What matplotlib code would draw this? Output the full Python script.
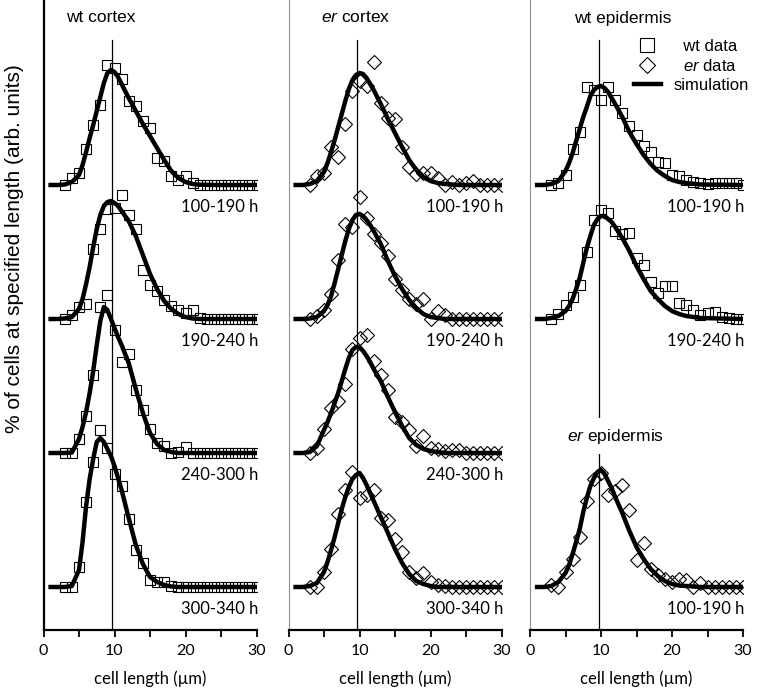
import matplotlib
matplotlib.use("Agg")
import matplotlib.pyplot as plt
from matplotlib.lines import Line2D
import numpy as np

plt.rcParams['mathtext.fontset'] = 'custom'
plt.rcParams['mathtext.it'] = 'Liberation Sans:italic'
plt.rcParams['mathtext.rm'] = 'Liberation Sans'

# measured bins (cell length, um) and simulation grid
bins = list(range(3, 31))
sim_x = [1, 2, 3, 4, 5, 5.5, 6, 6.5, 7, 7.5, 8, 8.5, 9, 9.5, 10, 10.5, 11, 11.5, 12,
         13, 14, 15, 16, 17, 18, 19, 20, 21, 22, 24, 30]

# wt cortex
wtc_100 = [0, 7, 12, 36, 60, 80, 120, 117, 106, 84, 79, 64, 57, 27, 24, 9, 5, 9, 2, 0, 0, 0, 0, 0, 0, 0, 0, 0]
wtc_100_sim = [0, 0, 0.5, 3, 10, 20, 33, 47, 60, 74, 88, 102, 112, 115, 113, 108, 101, 94, 87,
               74, 61, 49, 37, 25, 14, 7, 3, 1, 0.3, 0, 0]
wtc_190 = [0, 4, 12, 15, 70, 90, 110, 111, 124, 104, 90, 49, 34, 28, 19, 13, 9, 6, 9, 1, 0, 0, 0, 0, 0, 0, 0, 0]
wtc_190_sim = [0, 0, 0.5, 2, 10, 20, 35, 52, 72, 90, 104, 113, 117, 118, 116, 113, 108, 103, 98,
               83, 64, 45, 30, 18, 10, 5, 2, 0.5, 0, 0, 0]
wtc_240 = [0, 0, 14, 37, 78, 146, 158, 123, 91, 99, 63, 43, 24, 10, 7, 0, 1, 6, 0, 0, 0, 0, 0, 0, 0, 0, 0, 0]
wtc_240_sim = [0, 0, 0, 0.5, 14, 26, 41, 60, 82, 108, 132, 146, 143, 134, 125, 116, 108, 99, 90,
               64, 40, 20, 9, 3, 1, 0, 0, 0, 0, 0, 0]
wtc_300 = [0, 0, 20, 85, 125, 157, 139, 113, 101, 68, 37, 24, 7, 5, 5, 1, 0, 0, 0, 0, 0, 0, 0, 0, 0, 0, 0, 0]
wtc_300_sim = [0, 0, 0, 1, 17, 45, 81, 108, 128, 145, 149, 145, 138, 131, 121, 109, 97, 83, 69,
               42, 23, 10, 5, 2, 0.5, 0, 0, 0, 0, 0, 0]

# er cortex
erc_100 = [0, 9, 12, 38, 28, 61, 94, 104, 99, 123, 82, 67, 66, 38, 18, 11, 12, 12, 7, 0, 3, 0, 2, 4, 0, 0, 0, 0]
erc_100_sim = [0, 0, 1, 4, 13, 22, 33, 45, 58, 71, 84, 96, 105, 110, 112, 111, 107, 101, 95,
               81, 66, 52, 38, 25, 15, 8, 4, 2, 1, 0, 0]
erc_190 = [0, 3, 9, 25, 59, 95, 92, 122, 101, 85, 76, 63, 40, 29, 20, 15, 20, 0, 8, 4, 0, 0, 0, 0, 0, 0, 0, 0]
erc_190_sim = [0, 0, 0.5, 2, 8, 14, 23, 36, 50, 64, 78, 90, 99, 104, 105, 103, 99, 94, 88,
               75, 58, 43, 30, 19, 11, 5, 2, 1, 0, 0, 0]
erc_240 = [0, 5, 24, 45, 52, 69, 104, 115, 118, 92, 78, 63, 36, 31, 23, 7, 17, 5, 4, 2, 3, 3, 0, 0, 0, 0, 0, 0]
erc_240_sim = [0, 0, 1, 7, 23, 31, 40, 50, 60, 72, 84, 95, 103, 106, 106, 102, 97, 91, 84,
               72, 56, 41, 27, 15, 8, 4, 2, 1, 0, 0, 0]
erc_300 = [0, 0, 15, 38, 73, 97, 115, 89, 92, 97, 69, 67, 48, 35, 15, 9, 14, 5, 2, 1, 0, 0, 0, 0, 0, 0, 0, 0]
erc_300_sim = [0, 0, 1, 4, 15, 25, 37, 50, 64, 78, 90, 100, 108, 112, 114, 109, 102, 94, 86,
               70, 54, 38, 24, 13, 6, 3, 1, 0, 0, 0, 0]

# epidermis
wte_100 = [0, 2, 10, 36, 53, 98, 95, 85, 98, 85, 72, 59, 50, 39, 33, 23, 22, 10, 9, 5, 3, 2, 1, 2, 2, 2, 2, 0]
wte_100_sim = [0, 0, 1, 4, 14, 22, 32, 44, 56, 68, 78, 89, 95, 98, 99, 97, 93, 87, 81,
               68, 53, 41, 30, 21, 14, 9, 5, 3, 2, 0.5, 0]
wte_190 = [0, 5, 14, 22, 34, 67, 99, 109, 106, 88, 85, 86, 61, 54, 37, 26, 33, 33, 16, 14, 9, 4, 6, 7, 2, 1, 0, 0]
wte_190_sim = [0, 0, 1, 3, 8, 13, 20, 30, 41, 56, 71, 83, 94, 100, 103, 103, 100, 97, 92,
               81, 68, 53, 40, 28, 20, 13, 8, 5, 3, 1, 0]
ere_100 = [2, 0, 15, 28, 50, 86, 108, 114, 92, 96, 102, 77, 27, 44, 18, 12, 8, 5, 8, 7, 0, 4, 0, 0, 0, 0, 0, 0]
ere_100_sim = [0, 0, 1, 5, 14, 22, 33, 45, 58, 75, 89, 101, 109, 115, 117, 113, 106, 99, 90,
               74, 56, 40, 28, 18, 11, 6, 3, 1.5, 1, 0, 0]

offsets = [445, 311, 177, 43]
ref_len = 9.7

panels = [
    ("wt cortex", 8.0, 's', [(wtc_100, wtc_100_sim, "100-190 h", 0), (wtc_190, wtc_190_sim, "190-240 h", 1),
                              (wtc_240, wtc_240_sim, "240-300 h", 2), (wtc_300, wtc_300_sim, "300-340 h", 3)]),
    ("$\\it{er}$ cortex", 9.5, 'D', [(erc_100, erc_100_sim, "100-190 h", 0), (erc_190, erc_190_sim, "190-240 h", 1),
                                     (erc_240, erc_240_sim, "240-300 h", 2), (erc_300, erc_300_sim, "300-340 h", 3)]),
    ("wt epidermis", 13.0, None, [(wte_100, wte_100_sim, "100-190 h", 0, 's'), (wte_190, wte_190_sim, "190-240 h", 1, 's'),
                                  (ere_100, ere_100_sim, "100-190 h", 3, 'D')]),
]

fig = plt.figure(figsize=(7.58, 6.98), dpi=100)
lefts = [43.5, 288.5, 530]
axes = [fig.add_axes([l / 758, 68 / 698, 213 / 758, 630 / 698]) for l in lefts]

for i, (ax, (title, tx, mk, series)) in enumerate(zip(axes, panels)):
    ax.set_xlim(0, 30)
    ax.set_ylim(0, 630)
    for s in ['top', 'right']:
        ax.spines[s].set_visible(False)
    if i == 0:
        ax.spines['left'].set_linewidth(1.6)
        ax.spines['left'].set_color('black')
    else:
        ax.spines['left'].set_linewidth(0.8)
        ax.spines['left'].set_color('#909090')
    ax.spines['bottom'].set_linewidth(1.6)
    ax.set_yticks([])
    ax.set_xticks([0, 10, 20, 30])
    ax.set_xticks([5, 15, 25], minor=True)
    ax.tick_params(axis='x', which='both', direction='out', length=5, width=1.3, labelsize=11.5, pad=5)
    for lab in ax.get_xticklabels():
        lab.set_family('Lato')
    ax.set_xlabel("cell length (\u00b5m)", family='Lato', fontsize=12, labelpad=9)

    ax.axvline(ref_len, ymin=0, ymax=590 / 630, color='black', lw=0.9, zorder=1)
    ax.text(tx, 612, title, ha='center', va='center', fontsize=12.5, family='Liberation Sans')

    for item in series:
        data, sim, lab, row = item[:4]
        marker = item[4] if len(item) > 4 else mk
        off = offsets[row]
        ax.plot(sim_x, np.array(sim) + off, color='black', lw=3.2, zorder=2, solid_joinstyle='round')
        ms = 7.5 if marker == 's' else 7
        ax.plot(bins, np.array(data) + off, ls='none', marker=marker, ms=ms, mfc='none', mec='black',
                mew=0.8, zorder=3)
        ax.text(30.2, off - 22, lab, ha='right', va='center', fontsize=12, family='Lato')

axes[2].text(12.1, 194, "$\\it{er}$ epidermis", ha='center', va='center', fontsize=12.5,
             family='Liberation Sans', zorder=4,
             bbox=dict(facecolor='white', edgecolor='none', pad=6))

handles = [Line2D([], [], ls='none', marker='s', ms=10, mfc='none', mec='black', mew=0.8),
           Line2D([], [], ls='none', marker='D', ms=8, mfc='none', mec='black', mew=0.8),
           Line2D([], [], color='black', lw=3.2)]
labels = ["  wt data", "  $\\it{er}$ data", "simulation"]
axes[2].legend(handles, labels, loc='upper right', bbox_to_anchor=(756 / 758, 666 / 698),
               bbox_transform=fig.transFigure, frameon=False, borderaxespad=0,
               prop={'family': 'Liberation Sans', 'size': 12}, handlelength=1.6,
               labelspacing=0.25, handletextpad=0.8)

fig.text(15 / 758, (698 - 249) / 698, "% of cells at specified length (arb. units)", rotation=90,
         ha='center', va='center', fontsize=15, family='Liberation Sans')

fig.savefig("out.png", dpi=100)
